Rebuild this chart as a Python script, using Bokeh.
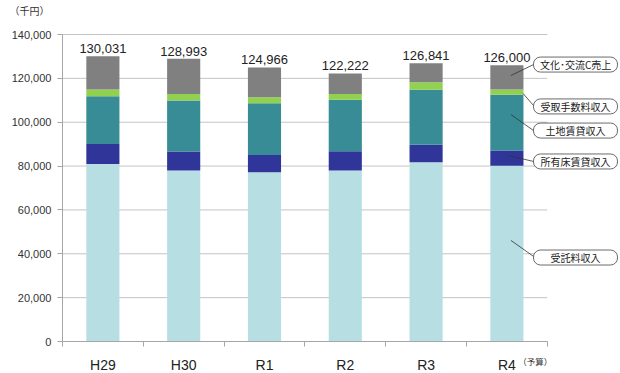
from bokeh.plotting import figure
from bokeh.models import (ColumnDataSource, FixedTicker, NumeralTickFormatter, Range1d,
                          Label, LabelSet, LinearAxis)
from bokeh.embed import file_html
from bokeh.resources import INLINE
from bokeh.core.properties import value

years = ["H29", "H30", "R1", "R2", "R3", "R4"]
itaku = [81000, 78000, 77200, 78000, 81800, 80100]      # 受託料収入
shoyu = [9100, 8600, 7900, 8800, 7900, 7000]            # 所有床賃貸収入
tochi = [21800, 23300, 23600, 23400, 25100, 25400]      # 土地賃貸収入
tesuryo = [3000, 3000, 2700, 2700, 3400, 2400]          # 受取手数料収入
totals = [130031, 128993, 124966, 122222, 126841, 126000]
bunka = [t - a - b - c - d for t, a, b, c, d in zip(totals, itaku, shoyu, tochi, tesuryo)]  # 文化・交流C売上
total_labels = ["130,031", "128,993", "124,966", "122,222", "126,841", "126,000"]
y_ticks = [0, 20000, 40000, 60000, 80000, 100000, 120000, 140000]

series = ["itaku", "shoyu", "tochi", "tesuryo", "bunka"]
colors = ["#B7DFE3", "#30359A", "#378C95", "#92D050", "#808080"]

xs = [i + 0.5 for i in range(len(years))]
src = ColumnDataSource(dict(x=xs, itaku=itaku, shoyu=shoyu, tochi=tochi,
                            tesuryo=tesuryo, bunka=bunka, total=totals, lab=total_labels))

p = figure(width=620, height=373, output_backend="svg", toolbar_location=None,
           x_range=Range1d(-0.767, 6.906), y_range=Range1d(-14593, 155510),
           x_axis_location=None, y_axis_location=None,
           min_border=0)
p.outline_line_color = None
p.background_fill_color = "white"
p.xgrid.grid_line_color = None
p.ygrid.grid_line_color = None

# gridlines (chart area only)
p.segment(x0=[0] * len(y_ticks[1:]), y0=y_ticks[1:], x1=[len(years)] * len(y_ticks[1:]),
          y1=y_ticks[1:], line_color="#C4C4C4", line_width=1)

p.vbar_stack(series, x="x", width=0.41, source=src, color=colors, line_color=None)

p.add_layout(LabelSet(x="x", y="total", text="lab", source=src, text_align="center",
                      text_baseline="bottom", y_offset=3, text_font=value("Liberation Sans"),
                      text_font_size="13px", text_color="#222222"))

# axes placed at fixed locations inside the frame
yaxis = LinearAxis(fixed_location=0, bounds=(0, 140000), ticker=FixedTicker(ticks=y_ticks),
                   formatter=NumeralTickFormatter(format="0,0"))
yaxis.major_label_text_font = "Liberation Sans"
yaxis.major_label_text_font_size = "11px"
yaxis.major_label_text_color = "#333333"
yaxis.major_tick_in = 0
yaxis.major_tick_out = 5
yaxis.minor_tick_line_color = None
yaxis.axis_line_color = "#A6A6A6"
yaxis.major_tick_line_color = "#A6A6A6"
yaxis.major_label_standoff = 6
p.add_layout(yaxis, "left")

xaxis = LinearAxis(fixed_location=0, bounds=(0, len(years)),
                   ticker=FixedTicker(ticks=xs, minor_ticks=list(range(len(years) + 1))))
xaxis.major_label_overrides = {x: y for x, y in zip(xs, years)}
xaxis.major_label_text_font = "Liberation Sans"
xaxis.major_label_text_font_size = "14px"
xaxis.major_label_text_color = "#222222"
xaxis.major_tick_line_color = None
xaxis.minor_tick_in = 0
xaxis.minor_tick_out = 5
xaxis.minor_tick_line_color = "#A6A6A6"
xaxis.axis_line_color = "#A6A6A6"
xaxis.major_label_standoff = 9
p.add_layout(xaxis, "below")

# unit label
p.add_layout(Label(x=-0.656, y=151000, text="（千円）", text_font="Noto Sans CJK JP",
                   text_font_size="10px", text_color="#333333", text_baseline="middle"))
# (予算)
p.add_layout(Label(x=5.64, y=-8900, text="（予算）", text_font="Noto Sans CJK JP",
                   text_font_size="8.5px", text_color="#333333", text_baseline="middle"))

# callouts
call_text = ["文化･交流C売上", "受取手数料収入", "土地賃貸収入", "所有床賃貸収入", "受託料収入"]
call_y = [126300, 107200, 96200, 82100, 38300]
line_x0 = [5.83, 5.83, 5.83, 5.83, 5.83]
line_y0 = [126300, 107600, 96200, 82100, 38800]
line_x1 = [5.55, 5.7, 5.55, 5.52, 5.55]
line_y1 = [121300, 113100, 103500, 84800, 46100]
p.segment(x0=line_x0, y0=line_y0, x1=line_x1, y1=line_y1, line_color="#333333", line_width=0.8)
box_half = 3420
p.quad(left=[5.829] * 5, right=[6.869] * 5,
       top=[c + box_half for c in call_y], bottom=[c - box_half for c in call_y],
       fill_color="white", line_color="#444444", line_width=0.8, border_radius=7)
p.text(x=[6.35] * 5, y=call_y, text=call_text, text_align="center", text_baseline="middle",
       text_font=value("Noto Sans CJK JP"), text_font_size="10px", text_color="#222222")

open("out.html", "w").write(file_html(p, INLINE))
